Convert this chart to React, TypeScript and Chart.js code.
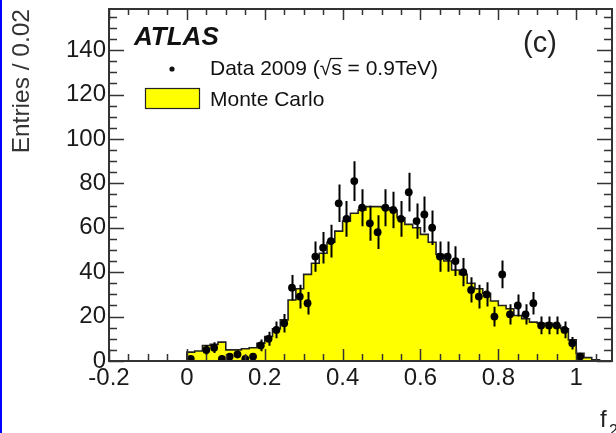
import { useEffect, useRef } from 'react';
import { Chart, registerables } from 'chart.js';

Chart.register(...registerables);

const FONT = '"Liberation Sans", Arial, Helvetica, sans-serif';

// bin centres (bin width 0.02)
const binCenters = [
  0.01, 0.03, 0.05, 0.07, 0.09, 0.11, 0.13, 0.15, 0.17, 0.19,
  0.21, 0.23, 0.25, 0.27, 0.29, 0.31, 0.33, 0.35, 0.37, 0.39,
  0.41, 0.43, 0.45, 0.47, 0.49, 0.51, 0.53, 0.55, 0.57, 0.59,
  0.61, 0.63, 0.65, 0.67, 0.69, 0.71, 0.73, 0.75, 0.77, 0.79,
  0.81, 0.83, 0.85, 0.87, 0.89, 0.91, 0.93, 0.95, 0.97, 0.99,
  1.01, 1.03, 1.05, 1.07,
];
const BIN_WIDTH = 0.02;

// Monte Carlo expectation per bin
const mcValues = [
  4, 4.5, 7, 7.5, 8.5, 5, 5, 5.5, 6, 8,
  11, 14.5, 18.5, 27.5, 32.5, 39, 44, 48.5, 53.5, 58.5,
  63, 66.5, 68, 69.5, 69.5, 69, 68, 64.5, 61.5, 60,
  57, 53.5, 48, 45, 41, 39, 35, 32.5, 30.5, 27,
  25, 23.5, 20.5, 19, 17.5, 17, 17, 16, 14.5, 9.5,
  3.5, 1.5, 0.5, 0,
];

// Data 2009 counts per bin
const dataCounts = [
  1, 0, 5, 6, 1, 2, 3, 1, 2, 7,
  10, 14, 17, 33, 29, 26, 47, 51, 54, 71,
  64, 81, 69, 62, 58, 69, 68, 64, 76, 63,
  66, 60, 47, 47, 45, 40, 32, 29, 30, 20,
  39, 21, 25, 21, 26, 16, 16, 16, 14, 8,
  2, 0, 0, 0,
];

const xTickValues = [-0.2, 0, 0.2, 0.4, 0.6, 0.8, 1];
const yTickValues = [0, 20, 40, 60, 80, 100, 120, 140];
const X_MIN = -0.2;
const X_MAX = 1.092;
const Y_MIN = 0;
const Y_MAX = 158.5;

const decorPlugin = {
  id: 'atlasDecor',
  beforeDatasetDraw(chart: any, args: any) {
    if (args.index !== 0) return;
    const { ctx, scales } = chart;
    const x = scales.x;
    const y = scales.y;
    ctx.save();
    ctx.strokeStyle = '#000';
    ctx.lineWidth = 2;
    ctx.beginPath();
    binCenters.forEach((c, i) => {
      const n = dataCounts[i];
      if (n <= 0) return;
      const e = Math.sqrt(n);
      const px = Math.round(x.getPixelForValue(c)) + 0.5;
      ctx.moveTo(px, y.getPixelForValue(n + e));
      ctx.lineTo(px, y.getPixelForValue(Math.max(0, n - e)));
    });
    ctx.stroke();
    ctx.restore();
  },
  afterDraw(chart: any) {
    const { ctx, chartArea, scales } = chart;
    const x = scales.x;
    const y = scales.y;
    const { left, right, top, bottom } = chartArea;
    ctx.save();
    // ticks
    ctx.strokeStyle = '#333';
    ctx.lineWidth = 1.5;
    ctx.beginPath();
    for (let v = Y_MIN; v <= Y_MAX + 1e-9; v += 5) {
      const py = Math.round(y.getPixelForValue(v)) + 0.5;
      const major = Math.abs(v % 20) < 1e-6;
      const len = major ? 15 : 8;
      ctx.moveTo(left, py);
      ctx.lineTo(left + len, py);
      ctx.moveTo(right, py);
      ctx.lineTo(right - len, py);
    }
    for (let k = -4; k * 0.05 <= X_MAX + 1e-9; k++) {
      const v = k * 0.05;
      const px = Math.round(x.getPixelForValue(v)) + 0.5;
      const major = k % 4 === 0;
      ctx.moveTo(px, bottom);
      ctx.lineTo(px, bottom - (major ? 12 : 7));
      ctx.moveTo(px, top);
      ctx.lineTo(px, top + (major ? 11 : 6));
    }
    ctx.stroke();
    // frame
    ctx.lineWidth = 2;
    ctx.strokeStyle = '#333';
    ctx.strokeRect(left, top, right - left, bottom - top);

    // texts
    ctx.fillStyle = '#111';
    ctx.textBaseline = 'alphabetic';
    ctx.textAlign = 'left';
    ctx.font = `italic bold 26px ${FONT}`;
    ctx.fillText('ATLAS', 134, 45);

    ctx.font = `21px ${FONT}`;
    const t1a = 'Data 2009 (√';
    const t1 = 'Data 2009 (√s = 0.9TeV)';
    ctx.fillText(t1, 210, 75);
    const sx = 210 + ctx.measureText(t1a).width;
    const sw = ctx.measureText('s').width;
    ctx.lineWidth = 1.2;
    ctx.strokeStyle = '#111';
    ctx.beginPath();
    ctx.moveTo(sx - 1, 58.5);
    ctx.lineTo(sx + sw + 0.5, 58.5);
    ctx.stroke();

    ctx.fillText('Monte Carlo', 210, 106);

    ctx.beginPath();
    ctx.arc(172, 69, 2.6, 0, Math.PI * 2);
    ctx.fill();

    ctx.fillStyle = '#ffff00';
    ctx.fillRect(145, 88, 54, 20);
    ctx.lineWidth = 1.2;
    ctx.strokeStyle = '#222';
    ctx.strokeRect(145.5, 88.5, 54, 20);

    ctx.fillStyle = '#222';
    ctx.font = `29px ${FONT}`;
    ctx.fillText('(c)', 523, 52);

    ctx.fillStyle = '#222';
    ctx.font = `24px ${FONT}`;
    ctx.fillText('f', 600, 427);
    ctx.font = `16px ${FONT}`;
    ctx.fillText('2', 609, 436);
    ctx.restore();
  },
};

export default function App() {
  const ref = useRef<HTMLCanvasElement>(null);
  useEffect(() => {
    if (!ref.current) return;
    const mcPoints: { x: number; y: number }[] = [{ x: binCenters[0] - BIN_WIDTH / 2, y: 0 }];
    binCenters.forEach((c, i) => mcPoints.push({ x: c - BIN_WIDTH / 2, y: mcValues[i] }));
    mcPoints.push({ x: binCenters[binCenters.length - 1] + BIN_WIDTH / 2, y: 0 });
    const dataPoints = binCenters
      .map((c, i) => ({ x: c, y: dataCounts[i] }))
      .filter((p) => p.y > 0);

    const chart = new Chart(ref.current, {
      type: 'scatter',
      data: {
        datasets: [
          {
            label: 'Data 2009',
            data: dataPoints,
            showLine: false,
            pointRadius: 3.9,
            pointBackgroundColor: '#000',
            pointBorderColor: '#000',
            pointBorderWidth: 0,
          },
          {
            label: 'Monte Carlo',
            data: mcPoints,
            showLine: true,
            stepped: 'before',
            fill: 'origin',
            backgroundColor: '#ffff00',
            borderColor: '#222',
            borderWidth: 1.6,
            pointRadius: 0,
          } as any,
        ],
      },
      options: {
        responsive: false,
        animation: false,
        devicePixelRatio: 1,
        layout: { padding: { left: 0, right: 2, top: 9, bottom: 0 } },
        plugins: {
          legend: { display: false },
          tooltip: { enabled: false },
        },
        scales: {
          x: {
            type: 'linear',
            position: 'bottom',
            min: X_MIN,
            max: X_MAX,
            grid: { display: false, drawTicks: false },
            border: { display: false },
            afterBuildTicks: (s: any) => {
              s.ticks = xTickValues.map((v) => ({ value: v }));
            },
            afterFit: (s: any) => {
              s.height = 72;
              s.paddingLeft = 0;
              s.paddingRight = 0;
            },
            ticks: {
              autoSkip: false,
              maxRotation: 0,
              padding: 3,
              color: '#1a1a1a',
              font: { family: FONT, size: 24 },
              callback: (v: any) => String(Number(Number(v).toFixed(2))),
            },
          },
          y: {
            type: 'linear',
            position: 'left',
            min: Y_MIN,
            max: Y_MAX,
            grid: { display: false, drawTicks: false },
            border: { display: false },
            afterBuildTicks: (s: any) => {
              s.ticks = yTickValues.map((v) => ({ value: v }));
            },
            afterFit: (s: any) => {
              s.width = 109;
              s.paddingTop = 0;
              s.paddingBottom = 0;
            },
            ticks: {
              padding: 3,
              color: '#1a1a1a',
              font: { family: FONT, size: 24 },
              callback: (v: any) => String(v),
            },
            title: {
              display: true,
              text: 'Entries / 0.02',
              align: 'end',
              color: '#333',
              font: { family: FONT, size: 24.5 },
              padding: { top: 8, bottom: 0 },
            },
          },
        },
      },
      plugins: [decorPlugin],
    });
    return () => chart.destroy();
  }, []);

  return (
    <div style={{ position: 'fixed', left: 0, top: 0, width: 616, height: 433, background: '#fff' }}>
      <canvas ref={ref} width={616} height={433} style={{ display: 'block', width: 616, height: 433 }} />
      <div style={{ position: 'absolute', left: 0, top: 0, width: 2, height: 433, background: '#0000ff' }} />
    </div>
  );
}
